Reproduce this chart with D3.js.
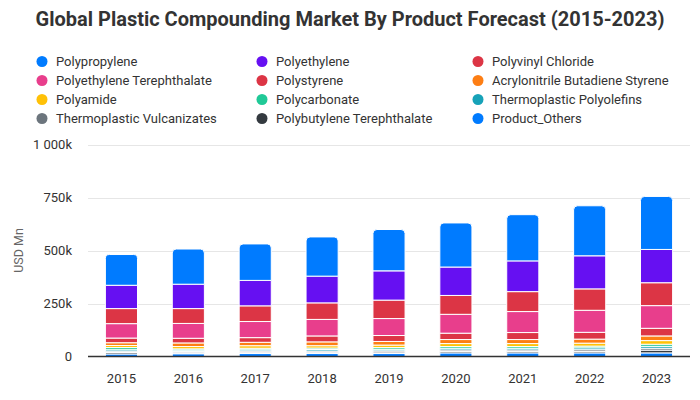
<!DOCTYPE html>
<html>
<head>
<meta charset="utf-8">
<script src="https://cdn.jsdelivr.net/npm/d3@7/dist/d3.min.js"></script>
<style>
  html, body { margin: 0; padding: 0; background: #fff; }
  svg { display: block; font-family: Roboto, "Liberation Sans", Arial, sans-serif; }
</style>
</head>
<body>
<svg id="chart" width="700" height="400"></svg>
<script>
const years = ["2015","2016","2017","2018","2019","2020","2021","2022","2023"];
const seriesNames = ["Polypropylene","Polyethylene","Polyvinyl Chloride","Polyethylene Terephthalate","Polystyrene","Acrylonitrile Butadiene Styrene","Polyamide","Polycarbonate","Thermoplastic Polyolefins","Thermoplastic Vulcanizates","Polybutylene Terephthalate","Product_Others"];
const seriesColors = ["#007bff","#6610f2","#dc3545","#e83e8c","#dc3545","#fd7e14","#ffc107","#20c997","#17a2b8","#6c757d","#343a40","#007bff"];
// values in USD Mn
const polypropylene   = [145000,166000,172000,185000,195000,208000,218000,236000,250000];
const polyethylene    = [110000,115000,120000,126000,138000,134000,145000,156000,157000];
const polyvinylChloride = [71000,70000,74000,78000,87000,89000,94000,101000,108000];
const pet             = [68000,70000,76000,78000,80000,89000,99000,104000,107000];
const polystyrene     = [22000,22000,22000,28000,28000,30000,33000,32000,36000];
const abs             = [13000,17000,16000,18000,17000,19000,19000,19000,22000];
const polyamide       = [10000,11000,12000,11000,12000,14000,14000,14000,17000];
const polycarbonate   = [10000,6000,7000,7000,8000,8000,8000,8000,10000];
const tpo             = [7000,6000,6000,7000,7000,8000,8000,9000,9000];
const tpv             = [6000,6000,6000,6000,6000,7000,7000,8000,9000];
const pbt             = [7000,5000,6000,6000,7000,7000,7000,7000,13000];
const productOthers   = [12000,13000,14000,14000,14000,17000,17000,17000,17000];
const yTickValues = [0,250000,500000,750000,1000000];
const yTickLabels = ["0","250k","500k","750k","1 000k"];

const seriesValues = [polypropylene,polyethylene,polyvinylChloride,pet,polystyrene,abs,polyamide,polycarbonate,tpo,tpv,pbt,productOthers];

const svg = d3.select("#chart");
const x = d3.scaleBand().domain(years).range([88, 690]).paddingInner(0.52).paddingOuter(0.26);
const y = d3.scaleLinear().domain([0, 1000000]).range([356.5, 144.5]);

// Title
svg.append("text").attr("x", 350).attr("y", 26).attr("text-anchor", "middle")
  .attr("font-size", 20).attr("font-weight", "bold").attr("fill", "#333")
  .text("Global Plastic Compounding Market By Product Forecast (2015-2023)");

// Legend
const legCols = [42, 262, 478];
const legRows = [61.5, 80.5, 99.5, 118.5];
seriesNames.forEach((name, i) => {
  const cx = legCols[i % 3], cy = legRows[Math.floor(i / 3)];
  svg.append("circle").attr("cx", cx).attr("cy", cy).attr("r", 5.5).attr("fill", seriesColors[i]);
  svg.append("text").attr("x", cx + 14).attr("y", cy + 4.5).attr("font-size", 13)
    .attr("fill", "#333").text(name);
});

// Grid
const grid = svg.append("g");
yTickValues.forEach((v, i) => {
  if (v !== 0) {
    grid.append("line").attr("x1", 88).attr("x2", 690).attr("y1", Math.round(y(v)) + 0.5).attr("y2", Math.round(y(v)) + 0.5)
      .attr("stroke", "#e6e6e6").attr("stroke-width", 1);
  }
  svg.append("text").attr("x", 72).attr("y", y(v) + 4.5).attr("text-anchor", "end")
    .attr("font-size", 13).attr("fill", "#333").text(yTickLabels[i]);
});

// Axis title
svg.append("text").attr("transform", "translate(19," + y(500000) + ") rotate(-90)")
  .attr("text-anchor", "middle").attr("dy", "0.35em").attr("font-size", 12.5).attr("fill", "#666").text("USD Mn");

// Stack: bottom = Product_Others ... top = Polypropylene
const table = years.map((yr, j) => {
  const row = {year: yr};
  seriesNames.forEach((n, i) => row[n] = seriesValues[i][j]);
  return row;
});
const keys = seriesNames.slice().reverse();
const stacked = d3.stack().keys(keys)(table);

const bars = svg.append("g");
stacked.forEach((layer) => {
  const idx = seriesNames.indexOf(layer.key);
  const isTop = layer.key === keys[keys.length - 1];
  layer.forEach((d) => {
    const x0 = x(d.data.year), bw = x.bandwidth();
    const yTop = y(d[1]), yBot = y(d[0]);
    if (isTop) {
      const r = 4;
      const p = d3.path();
      p.moveTo(x0, yBot);
      p.lineTo(x0, yTop + r);
      p.quadraticCurveTo(x0, yTop, x0 + r, yTop);
      p.lineTo(x0 + bw - r, yTop);
      p.quadraticCurveTo(x0 + bw, yTop, x0 + bw, yTop + r);
      p.lineTo(x0 + bw, yBot);
      p.closePath();
      bars.append("path").attr("d", p.toString()).attr("fill", seriesColors[idx])
        .attr("stroke", "#fff").attr("stroke-width", 1);
    } else {
      bars.append("rect").attr("x", x0).attr("y", yTop).attr("width", bw)
        .attr("height", Math.max(0, yBot - yTop)).attr("fill", seriesColors[idx])
        .attr("stroke", "#fff").attr("stroke-width", 1);
    }
  });
});

// Baseline
svg.append("line").attr("x1", 88).attr("x2", 690).attr("y1", 356.5).attr("y2", 356.5)
  .attr("stroke", "#333").attr("stroke-width", 1.5);

// X labels
const xAxis = d3.axisBottom(x).tickSize(0).tickPadding(0);
const gx = svg.append("g").attr("transform", "translate(0,375)").call(xAxis);
gx.select(".domain").remove();
gx.selectAll("text").attr("font-size", 13).attr("fill", "#333")
  .attr("font-family", "Roboto, 'Liberation Sans', Arial, sans-serif").attr("dy", "0.6em");
</script>
</body>
</html>
